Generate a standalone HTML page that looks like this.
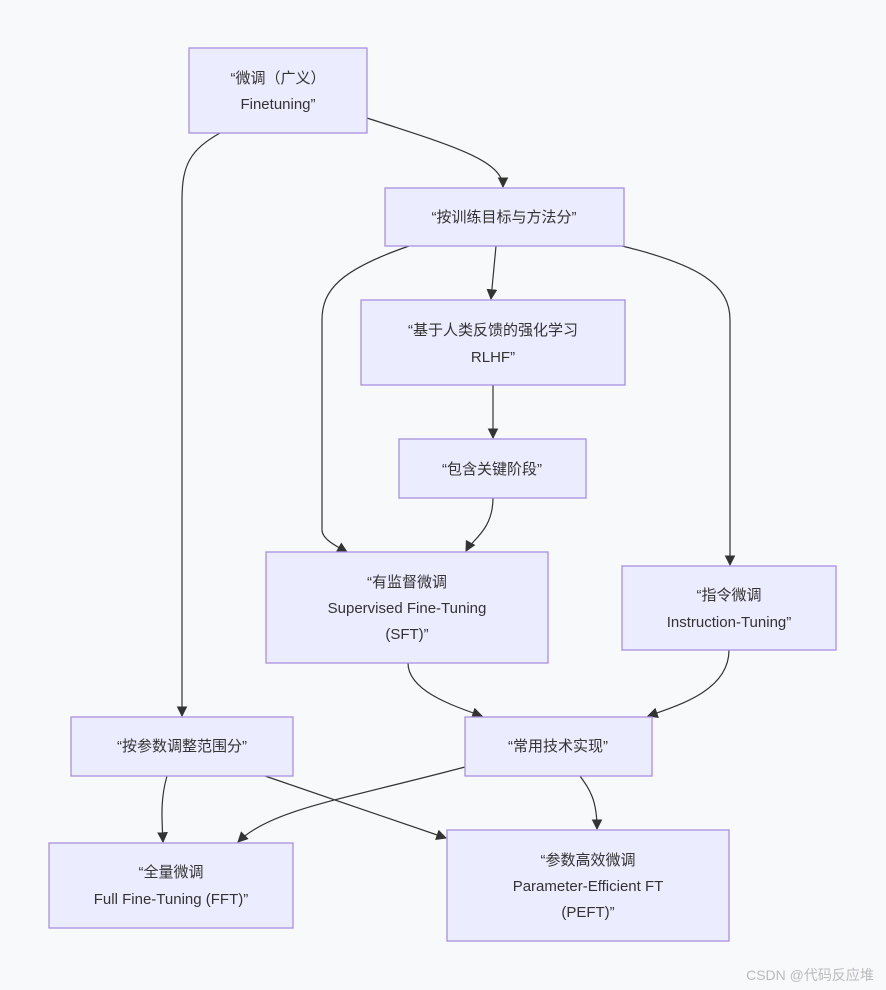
<!DOCTYPE html>
<html><head><meta charset="utf-8"><style>
html,body{margin:0;padding:0;background:#f8f9fb;}
svg{display:block}
text{font-family:"Liberation Sans","Noto Sans CJK SC",sans-serif;font-size:15px;fill:#333;text-anchor:middle}
rect{fill:#ececff;stroke:#a98fe0;stroke-width:1.3}
path{fill:none;stroke:#333;stroke-width:1.2}
</style></head><body>
<svg width="886" height="990" viewBox="0 0 886 990">
<defs><marker id="a" viewBox="0 0 10 10" refX="9" refY="5" markerWidth="9" markerHeight="9" orient="auto"><path d="M0,0L10,5L0,10z" style="fill:#333;stroke:none"/></marker></defs>
<g marker-end="url(#a)">
<path d="M367,118 C450,145 503,160 503,187"/>
<path d="M220,133 C190,150 182,165 182,200 L182,716"/>
<path d="M409,246 C340,270 322,290 322,320 L322,530 C322,540 340,548 347,552"/>
<path d="M496,246 L491,299"/>
<path d="M622,246 C700,265 730,285 730,320 L730,565"/>
<path d="M493,385 L493,438"/>
<path d="M493,498 C493,530 472,540 466,551"/>
<path d="M408,663 C408,690 450,705 482,716"/>
<path d="M729,650 C729,690 680,705 648,716"/>
<path d="M167,776 C160,800 162,820 163,842"/>
<path d="M265,776 L446,838"/>
<path d="M465,767 C340,800 270,810 238,842"/>
<path d="M580,776 C590,790 597,800 597,829"/>
</g>
<rect x="189" y="48" width="178" height="85"/>
<text x="278" y="83">“微调（广义）</text><text x="278" y="109">Finetuning”</text>
<rect x="385" y="188" width="239" height="58"/>
<text x="504" y="222">“按训练目标与方法分”</text>
<rect x="361" y="300" width="264" height="85"/>
<text x="493" y="335">“基于人类反馈的强化学习</text><text x="493" y="362">RLHF”</text>
<rect x="399" y="439" width="187" height="59"/>
<text x="492" y="474">“包含关键阶段”</text>
<rect x="266" y="552" width="282" height="111"/>
<text x="407" y="587">“有监督微调</text><text x="407" y="613">Supervised Fine-Tuning</text><text x="407" y="639">(SFT)”</text>
<rect x="622" y="566" width="214" height="84"/>
<text x="729" y="600">“指令微调</text><text x="729" y="627">Instruction-Tuning”</text>
<rect x="71" y="717" width="222" height="59"/>
<text x="182" y="751">“按参数调整范围分”</text>
<rect x="465" y="717" width="187" height="59"/>
<text x="558" y="751">“常用技术实现”</text>
<rect x="49" y="843" width="244" height="85"/>
<text x="171" y="877">“全量微调</text><text x="171" y="904">Full Fine-Tuning (FFT)”</text>
<rect x="447" y="830" width="282" height="111"/>
<text x="588" y="865">“参数高效微调</text><text x="588" y="891">Parameter-Efficient FT</text><text x="588" y="917">(PEFT)”</text>
<text x="810" y="980" style="font-size:14px;fill:#bbb">CSDN @代码反应堆</text>
</svg>
</body></html>
